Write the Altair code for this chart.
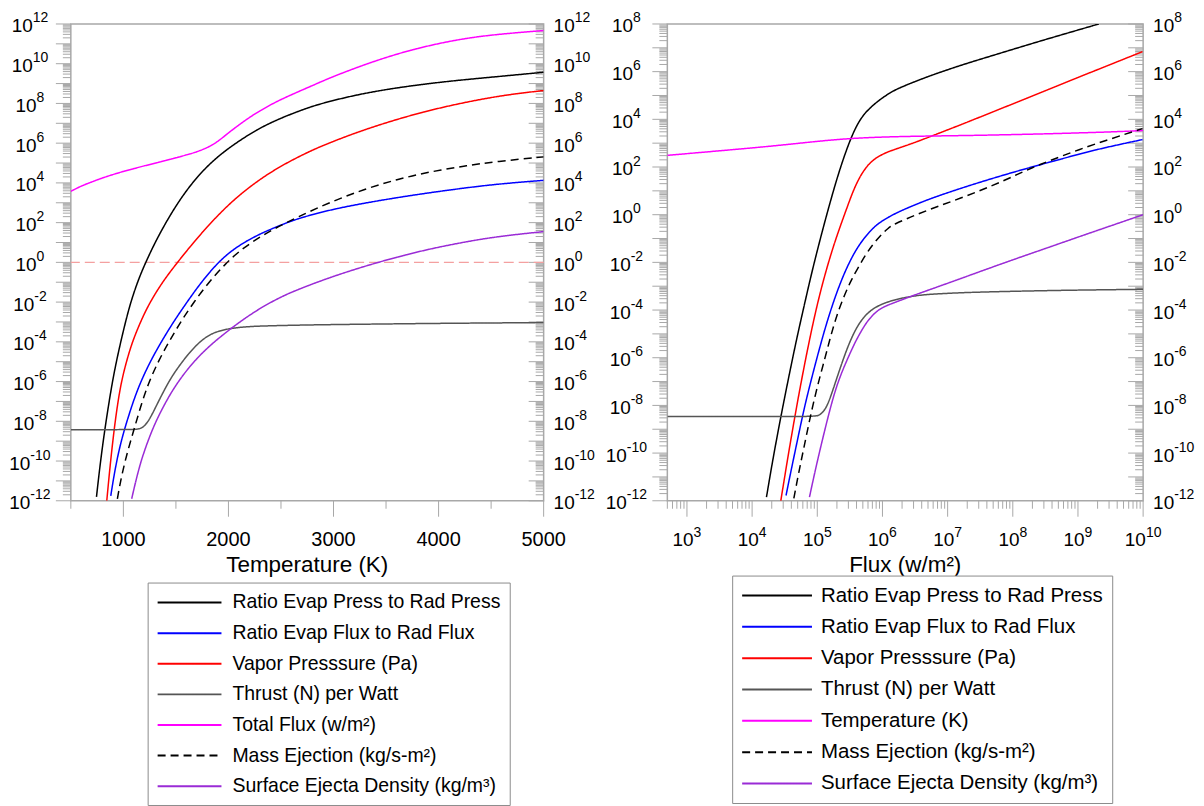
import altair as alt
import pandas as pd

FONT = "Liberation Sans, Arial, Helvetica, sans-serif"
TICK = "#a8a8a8"
FRAME = "#a8a8a8"

# ---------------- series names / styles ----------------
L_SERIES = ["Ratio Evap Press to Rad Press", "Ratio Evap Flux to Rad Flux",
            "Vapor Presssure (Pa)", "Thrust (N) per Watt", "Total Flux (w/m²)",
            "Mass Ejection (kg/s-m²)", "Surface Ejecta Density (kg/m³)"]
R_SERIES = ["Ratio Evap Press to Rad Press", "Ratio Evap Flux to Rad Flux",
            "Vapor Presssure (Pa)", "Thrust (N) per Watt", "Temperature (K)",
            "Mass Ejection (kg/s-m²)", "Surface Ejecta Density (kg/m³)"]
COLORS = ["#000000", "#0000ff", "#ff0000", "#555555", "#ff00ff", "#000000", "#9a2bd6"]
DASHES = [[1, 0], [1, 0], [1, 0], [1, 0], [1, 0], [8, 5], [1, 0]]

# ---------------- LEFT PANEL: x = temperature (K), values as log10 ----------------
L_press_T = [744, 780, 823, 860, 896, 935, 975, 1020, 1070, 1140, 1212, 1319, 1477, 1636, 1795,
             1953, 2111, 2271, 2430, 2588, 2750, 2905, 3222, 3540, 3857, 4174, 4500, 5000]
L_press_lg = [-11.8, -10.1, -8.42, -7.15, -6.0, -4.95, -4.0, -3.0, -2.0, -0.9, 0.0, 1.2, 2.68, 3.89,
              4.84, 5.56, 6.15, 6.68, 7.1, 7.45, 7.77, 8.03, 8.44, 8.74, 8.97, 9.16, 9.32, 9.57]

L_flux_T = [880, 910, 946, 980, 1016, 1090, 1165, 1260, 1355, 1470, 1592, 1740, 1893, 2019, 2170,
            2336, 2500, 2655, 2969, 3291, 3604, 3918, 4241, 4554, 5000]
L_flux_lg = [-11.75, -10.75, -9.75, -9.0, -8.3, -7.05, -6.0, -4.95, -4.05, -3.05, -2.1, -1.0, -0.05,
             0.55, 1.08, 1.52, 1.88, 2.2, 2.65, 2.98, 3.26, 3.51, 3.74, 3.94, 4.13]

L_vap_T = [842, 875, 911, 945, 981, 1030, 1086, 1160, 1244, 1380, 1515, 1636, 1795, 1953, 2111,
           2271, 2430, 2588, 2750, 2905, 3222, 3540, 3857, 4174, 4492, 4750, 5000]
L_vap_lg = [-12.0, -10.15, -8.45, -7.12, -6.0, -4.97, -3.99, -3.03, -2.08, -0.92, 0.0, 0.8, 1.78,
            2.66, 3.42, 4.07, 4.63, 5.1, 5.53, 5.9, 6.55, 7.1, 7.58, 7.97, 8.3, 8.5, 8.65]

L_thrust_T = [500, 800, 1100, 1165, 1210, 1260, 1320, 1386, 1460, 1544, 1620, 1703, 1780, 1861,
              2000, 2177, 2400, 2652, 3000, 3500, 4000, 4500, 5000]
L_thrust_lg = [-8.42, -8.42, -8.42, -8.38, -8.2, -7.8, -7.15, -6.46, -5.75, -5.12, -4.6, -4.12,
               -3.78, -3.53, -3.33, -3.23, -3.19, -3.16, -3.13, -3.1, -3.07, -3.05, -3.03]

L_total_T = [500, 600, 700, 800, 900, 1000, 1100, 1200, 1300, 1400, 1500, 1600, 1700, 1800, 1850,
             1900, 1950, 2000, 2100, 2200, 2300, 2400, 2500, 2655, 2800, 2969, 3291, 3604, 3918,
             4241, 4554, 5000]
L_total_lg = [3.58, 3.85, 4.05, 4.25, 4.42, 4.58, 4.72, 4.86, 4.99, 5.12, 5.26, 5.41, 5.56, 5.78,
              5.92, 6.1, 6.3, 6.52, 6.92, 7.3, 7.63, 7.93, 8.2, 8.57, 8.9, 9.3, 9.95, 10.5, 10.93,
              11.27, 11.48, 11.67]

L_mass_T = [943, 980, 1040, 1101, 1170, 1244, 1340, 1434, 1550, 1671, 1820, 1975, 2100, 2250, 2431,
            2655, 2969, 3291, 3604, 3918, 4241, 4554, 5000]
L_mass_lg = [-11.9, -10.8, -9.5, -8.42, -7.15, -6.0, -4.9, -4.0, -2.95, -2.0, -0.95, -0.05, 0.55,
             1.12, 1.68, 2.28, 3.03, 3.68, 4.18, 4.56, 4.85, 5.08, 5.31]

L_dens_T = [1079, 1120, 1160, 1196, 1260, 1323, 1420, 1513, 1610, 1703, 1780, 1861, 2003, 2170,
            2336, 2500, 2652, 2969, 3291, 3604, 3918, 4241, 4554, 5000]
L_dens_lg = [-11.9, -10.96, -10.16, -9.55, -8.62, -7.85, -6.86, -6.07, -5.38, -4.82, -4.41, -4.02,
             -3.41, -2.76, -2.2, -1.74, -1.38, -0.75, -0.2, 0.27, 0.68, 1.02, 1.3, 1.55]

# ---------------- RIGHT PANEL: x = log10 flux (w/m2), values as log10 ----------------
R_press_F = [4.22, 4.3, 4.4, 4.5, 4.6, 4.7, 4.8, 4.9, 5.0, 5.1, 5.2, 5.3, 5.4, 5.5, 5.58, 5.65,
             5.72, 5.8, 5.9, 6.04, 6.19, 6.45, 6.7, 7.21, 7.72, 8.22, 8.74, 9.32]
R_press_lg = [-11.85, -10.55, -9.05, -7.65, -6.3, -5.0, -3.8, -2.6, -1.5, -0.45, 0.55, 1.5, 2.35,
              3.1, 3.6, 3.95, 4.22, 4.45, 4.7, 4.98, 5.24, 5.53, 5.8, 6.28, 6.7, 7.12, 7.54, 8.0]

R_flux_F = [4.52, 4.6, 4.7, 4.8, 4.9, 5.0, 5.1, 5.2, 5.3, 5.4, 5.5, 5.6, 5.7, 5.8, 5.9, 6.0,
            6.19, 6.45, 6.7, 7.21, 7.72, 8.22, 8.74, 9.25, 9.99]
R_flux_lg = [-11.78, -10.7, -9.4, -8.1, -7.0, -5.95, -4.95, -4.05, -3.25, -2.55, -1.95, -1.45,
             -1.05, -0.72, -0.45, -0.25, 0.05, 0.36, 0.64, 1.12, 1.55, 1.95, 2.33, 2.72, 3.15]

R_vap_F = [4.44, 4.55, 4.65, 4.75, 4.85, 4.95, 5.05, 5.15, 5.25, 5.35, 5.45, 5.55, 5.65, 5.75,
           5.85, 5.95, 6.05, 6.19, 6.45, 6.7, 7.21, 7.72, 8.22, 8.74, 9.25, 9.99]
R_vap_lg = [-12.0, -10.15, -8.55, -7.05, -5.65, -4.35, -3.2, -2.2, -1.3, -0.5, 0.25, 1.0, 1.58,
            2.0, 2.28, 2.46, 2.6, 2.74, 2.98, 3.24, 3.78, 4.34, 4.89, 5.47, 6.03, 6.84]

R_thrust_F = [2.7, 4.0, 4.95, 5.03, 5.1, 5.17, 5.27, 5.38, 5.48, 5.58, 5.68, 5.8, 5.94, 6.19,
              6.5, 6.7, 7.2, 7.72, 8.74, 10.0]
R_thrust_lg = [-8.47, -8.47, -8.47, -8.42, -8.25, -7.92, -7.1, -6.2, -5.45, -4.85, -4.4, -4.05,
               -3.8, -3.55, -3.4, -3.34, -3.27, -3.23, -3.17, -3.13]

R_temp_F = [2.7, 3.0, 3.5, 4.0, 4.5, 5.0, 5.5, 6.0, 6.5, 7.0, 7.5, 8.0, 8.5, 9.0, 9.5, 10.0]
R_temp_lg = [2.49, 2.56, 2.68, 2.8, 2.93, 3.08, 3.2, 3.26, 3.29, 3.31, 3.33, 3.36, 3.39, 3.43,
             3.47, 3.53]

R_mass_F = [4.64, 4.72, 4.8, 4.89, 5.0, 5.12, 5.2, 5.3, 5.42, 5.52, 5.63, 5.78, 5.94, 6.09, 6.19,
            6.45, 6.7, 7.21, 7.72, 8.0, 8.3, 8.6, 9.0, 9.5, 9.99]
R_mass_lg = [-11.9, -10.75, -9.7, -8.5, -7.2, -6.0, -5.15, -4.2, -3.35, -2.75, -2.2, -1.5, -0.95,
             -0.55, -0.38, -0.08, 0.2, 0.7, 1.25, 1.6, 1.98, 2.3, 2.72, 3.18, 3.61]

R_dens_F = [4.88, 4.95, 5.03, 5.1, 5.2, 5.3, 5.4, 5.48, 5.58, 5.68, 5.78, 5.89, 6.0, 6.19, 6.5,
            7.0, 7.36, 8.0, 8.5, 9.0, 9.5, 10.0]
R_dens_lg = [-11.85, -10.95, -10.0, -9.2, -8.1, -7.15, -6.45, -5.95, -5.35, -4.85, -4.42, -4.1,
             -3.88, -3.68, -3.36, -2.88, -2.52, -1.89, -1.42, -0.94, -0.47, 0.0]

# ---------------- tick label definitions ----------------
L_Y_EXPS = list(range(-12, 13, 2))
R_Y_EXPS = list(range(-12, 9, 2))
L_X_LABELS = [1000, 2000, 3000, 4000, 5000]
R_X_EXPS = list(range(3, 11))

W_L, W_R, H = 474, 477, 478


def build_df(pairs, names, xlog):
    rows = []
    for (xs, lgs), name in zip(pairs, names):
        for i, (x, lg) in enumerate(zip(xs, lgs)):
            rows.append({"x": (10.0 ** x) if xlog else x, "v": 10.0 ** lg, "series": name, "i": i})
    return pd.DataFrame(rows)


df_L = build_df([(L_press_T, L_press_lg), (L_flux_T, L_flux_lg), (L_vap_T, L_vap_lg),
                 (L_thrust_T, L_thrust_lg), (L_total_T, L_total_lg), (L_mass_T, L_mass_lg),
                 (L_dens_T, L_dens_lg)], L_SERIES, False)
df_R = build_df([(R_press_F, R_press_lg), (R_flux_F, R_flux_lg), (R_vap_F, R_vap_lg),
                 (R_thrust_F, R_thrust_lg), (R_temp_F, R_temp_lg), (R_mass_F, R_mass_lg),
                 (R_dens_F, R_dens_lg)], R_SERIES, True)

xs_L = alt.Scale(domain=[500, 5000], nice=False, zero=False)
ys_L = alt.Scale(type="log", domain=[1e-12, 1e12], nice=False)
xs_R = alt.Scale(type="log", domain=[500, 1e10], nice=False)
ys_R = alt.Scale(type="log", domain=[1e-12, 1e8], nice=False)


def y_tick_layers(lo, hi, ys, W):
    major = pd.DataFrame({"v": [10.0 ** n for n in range(lo, hi + 1)]})
    minor = pd.DataFrame({"v": [k * 10.0 ** n for n in range(lo, hi) for k in range(2, 10)]})
    out = []
    for df, ln in ((major, 15), (minor, 8)):
        for x0, x1 in ((-ln, 0), (W - ln, W)):
            out.append(alt.Chart(df).mark_rule(color=TICK, strokeWidth=1).encode(
                y=alt.Y("v:Q", scale=ys, axis=None), x=alt.value(x0), x2=alt.value(x1)))
    return out


def x_tick_layers(major_vals, minor_vals, xs):
    out = []
    for vals, ln in ((major_vals, 16), (minor_vals, 8)):
        out.append(alt.Chart(pd.DataFrame({"v": vals})).mark_rule(color=TICK, strokeWidth=1).encode(
            x=alt.X("v:Q", scale=xs, axis=None), y=alt.value(H), y2=alt.value(H + ln)))
    return out


def exp_width(s):
    return sum(7.8 if c.isdigit() else 4.7 for c in s)


def y_label_layers(exps, ys, W):
    out = []
    groups = {}
    for n in exps:
        groups.setdefault(round(21.1 + exp_width(str(n)), 1), []).append(n)
    for w, ns in groups.items():
        df = pd.DataFrame({"v": [10.0 ** n for n in ns], "base": ["10"] * len(ns),
                           "exp": [str(n) for n in ns]})
        for bx in (-41 - w / 2, W + 10):
            out.append(alt.Chart(df).mark_text(align="left", baseline="alphabetic", font=FONT,
                                               fontSize=19, color="black", dy=8.5).encode(
                x=alt.value(bx), y=alt.Y("v:Q", scale=ys, axis=None), text="base:N"))
            out.append(alt.Chart(df).mark_text(align="left", baseline="alphabetic", font=FONT,
                                               fontSize=14, color="black", dy=-1.5).encode(
                x=alt.value(bx + 21.1), y=alt.Y("v:Q", scale=ys, axis=None), text="exp:N"))
    return out


def legend(x, y, path, lab_off, fs, rowpad):
    return alt.Legend(orient="none", legendX=x, legendY=y, title=None, direction="vertical",
                      symbolType=path, symbolSize=400, symbolStrokeWidth=2,
                      labelFont=FONT, labelFontSize=fs, labelColor="black", labelOffset=lab_off,
                      labelLimit=500, rowPadding=rowpad, padding=9, strokeColor="#8c8c8c",
                      fillColor="white")


def lines(df, names, xs, ys, leg):
    return alt.Chart(df).mark_line(clip=True, strokeWidth=1.5, interpolate="basis").encode(
        x=alt.X("x:Q", scale=xs, axis=None),
        y=alt.Y("v:Q", scale=ys, axis=None),
        color=alt.Color("series:N", scale=alt.Scale(domain=names, range=COLORS), legend=leg),
        strokeDash=alt.StrokeDash("series:N", scale=alt.Scale(domain=names, range=DASHES), legend=leg),
        order="i:Q",
    )


def title_layer(text, W):
    return alt.Chart(pd.DataFrame({"t": [text]})).mark_text(
        align="center", baseline="alphabetic", font=FONT, fontSize=22.5, color="black").encode(
        x=alt.value(W / 2), y=alt.value(H + 71), text="t:N")


# ----- left panel -----
leg_L = legend(77, 560, "M-1,0H5.4", 54, 19.5, 9.7)
one_line = alt.Chart(pd.DataFrame({"v": [1.0]})).mark_rule(
    color="#f4a0a0", strokeDash=[10, 5], strokeWidth=1.2).encode(y=alt.Y("v:Q", scale=ys_L, axis=None))
xlab_L = alt.Chart(pd.DataFrame({"v": L_X_LABELS, "t": [str(v) for v in L_X_LABELS]})).mark_text(
    align="center", baseline="alphabetic", font=FONT, fontSize=20, color="black").encode(
    x=alt.X("v:Q", scale=xs_L, axis=None), y=alt.value(H + 45), text="t:N")

left = alt.layer(
    *y_tick_layers(-12, 12, ys_L, W_L),
    *x_tick_layers(list(range(1000, 5001, 1000)), list(range(500, 5000, 1000)), xs_L),
    one_line,
    lines(df_L, L_SERIES, xs_L, ys_L, leg_L),
    *y_label_layers(L_Y_EXPS, ys_L, W_L),
    xlab_L,
    title_layer("Temperature (K)", W_L),
).properties(width=W_L, height=H)

# ----- right panel -----
leg_R = legend(65, 553, "M-1,0H6.0", 58, 20.5, 9.4)
xl_layers = []
for nd in (1, 2):
    ex = [n for n in R_X_EXPS if len(str(n)) == nd]
    w = 21.1 + 7.8 * nd
    d = pd.DataFrame({"v": [10.0 ** n for n in ex], "base": ["10"] * len(ex), "exp": [str(n) for n in ex]})
    xl_layers.append(alt.Chart(d).mark_text(align="left", baseline="alphabetic", font=FONT, fontSize=19,
                                            color="black", dx=-w / 2).encode(
        x=alt.X("v:Q", scale=xs_R, axis=None), y=alt.value(H + 45), text="base:N"))
    xl_layers.append(alt.Chart(d).mark_text(align="left", baseline="alphabetic", font=FONT, fontSize=14,
                                            color="black", dx=-w / 2 + 21.1).encode(
        x=alt.X("v:Q", scale=xs_R, axis=None), y=alt.value(H + 36), text="exp:N"))

r_major = [10.0 ** n for n in range(3, 11)]
r_minor = [k * 10.0 ** n for n in range(2, 10) for k in range(2, 10) if k * 10.0 ** n >= 500]

right = alt.layer(
    *y_tick_layers(-12, 8, ys_R, W_R),
    *x_tick_layers(r_major, r_minor, xs_R),
    lines(df_R, R_SERIES, xs_R, ys_R, leg_R),
    *y_label_layers(R_Y_EXPS, ys_R, W_R),
    *xl_layers,
    title_layer("Flux (w/m²)", W_R),
).properties(width=W_R, height=H)

chart = alt.hconcat(left, right, spacing=124, bounds="flush").resolve_scale(
    x="independent", y="independent", color="independent", strokeDash="independent"
).configure_view(stroke=FRAME, strokeWidth=1.5).properties(
    padding={"left": 0, "top": 1, "right": 0, "bottom": 0})

chart.save("out.html", embed_options={"renderer": "svg", "actions": False})
